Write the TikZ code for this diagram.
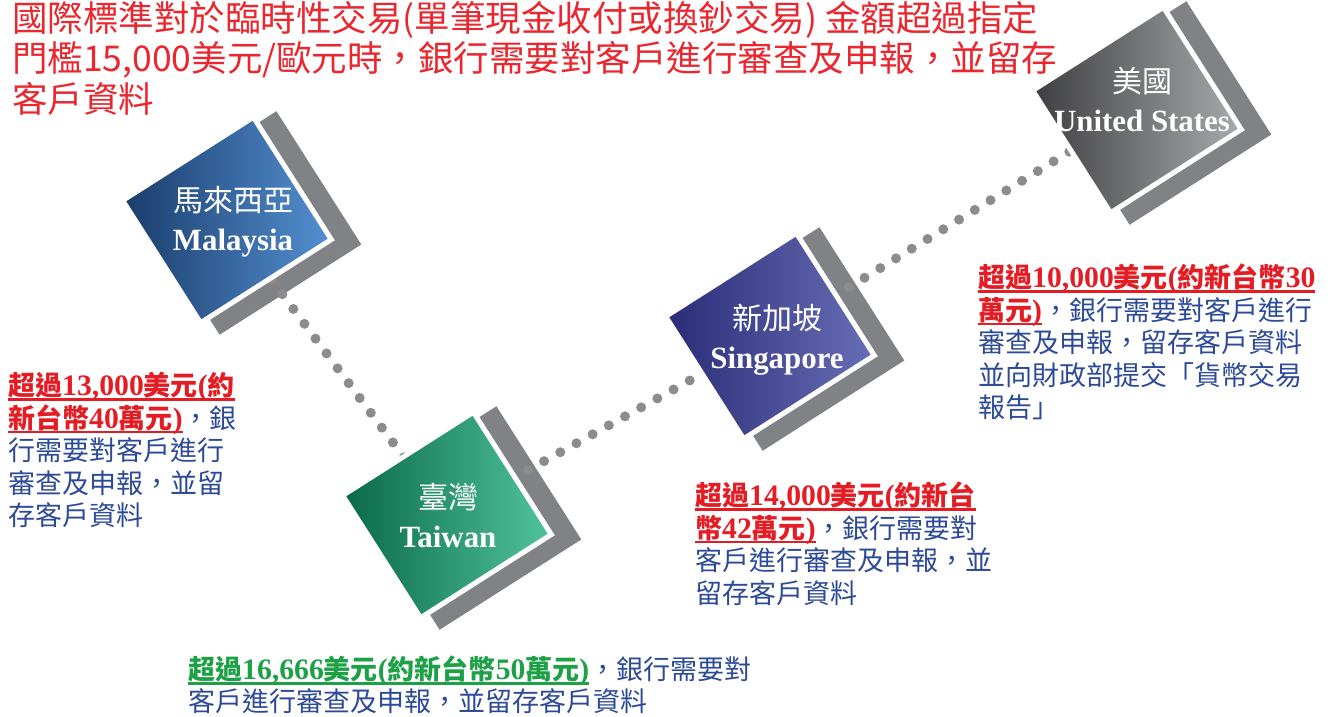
\documentclass[tikz,border=0pt]{standalone}
\usepackage{fontspec}
\setmainfont{Noto Sans CJK TC}
\newfontfamily\engfont{Liberation Serif}[Scale=1.03]
\newfontfamily\numfont{Liberation Serif}[Scale=1.1]
\usepackage{tikz}
\usetikzlibrary{positioning}
\usetikzlibrary{calc}

\definecolor{titlered}{RGB}{234,38,46}
\definecolor{hired}{RGB}{228,28,36}
\definecolor{higreen}{RGB}{30,160,70}
\definecolor{bodyblue}{RGB}{44,74,152}
\definecolor{shadowgray}{RGB}{128,130,133}
\definecolor{dotgray}{RGB}{140,140,142}
\definecolor{mysdark}{RGB}{26,60,106}
\definecolor{myslight}{RGB}{84,144,210}
\definecolor{twndark}{RGB}{10,104,72}
\definecolor{twnmid}{RGB}{0,164,118}
\definecolor{twnlight}{RGB}{80,196,156}
\definecolor{sgpdark}{RGB}{42,44,118}
\definecolor{sgplight}{RGB}{104,110,182}
\definecolor{usadark}{RGB}{62,62,64}
\definecolor{usalight}{RGB}{168,170,173}

\newcommand{\undl}[1]{\setbox0\hbox{#1}\rlap{\rule[-5pt]{\wd0}{2.5pt}}\box0}
\newcommand{\hotred}[1]{{\color{hired}\bfseries\undl{#1}}}
\newcommand{\hotgreen}[1]{{\color{higreen}\bfseries\undl{#1}}}
\newcommand{\lat}[1]{{\numfont #1}}

\tikzstyle{every node}=[inner sep=0pt]
\tikzstyle{backsq}=[rotate=32.5, fill=shadowgray, minimum width=168pt, minimum height=158pt]
\tikzstyle{frontsq}=[rotate=32.5, draw=white, line width=5pt, minimum width=155pt, minimum height=145pt]
\tikzstyle{dotline}=[dotgray, line width=10pt, line cap=round, dash pattern=on 0pt off 18.5pt]
\tikzstyle{country}=[text=white, align=center, font=\fontsize{30}{39}\selectfont]
\tikzstyle{note}=[anchor=north west, align=left, text=bodyblue, font=\fontsize{27}{32.5}\selectfont]
\tikzstyle{headline}=[anchor=north west, align=left, text=titlered, font=\fontsize{35.5}{40.5}\selectfont]

\begin{document}
\begin{tikzpicture}[x=1pt,y=-1pt]

\useasboundingbox (0,0) rectangle (1334,717);

\coordinate (mysc) at (227,220);
\coordinate (twnc) at (447,515);
\coordinate (sgpc) at (770,336);
\coordinate (usac) at (1137,110);

\node[backsq] (mysb) at ([shift={(21,3)}]mysc) {};
\node[backsq] (twnb) at ([shift={(21,3)}]twnc) {};
\node[backsq] (sgpb) at ([shift={(21,3)}]sgpc) {};
\node[backsq] (usab) at ([shift={(21,3)}]usac) {};

\draw[dotline] (mysc) -- (twnc);
\draw[dotline] (twnc) -- (sgpc);
\draw[dotline] (sgpc) -- (usac);

\node[frontsq, left color=mysdark, right color=myslight] (mys) at (mysc) {};
\node[frontsq, left color=twndark, middle color=twnmid, right color=twnlight] (twn) at (twnc) {};
\node[frontsq, left color=sgpdark, right color=sgplight] (sgp) at (sgpc) {};
\node[frontsq, left color=usadark, right color=usalight] (usa) at (usac) {};

\node[country] (mysl) at ([shift={(6,2)}]mys.center) {馬來西亞\\{\engfont\bfseries Malaysia}};
\node[country] (twnl) at ([shift={(1,1)}]twn.center) {臺灣\\{\engfont\bfseries Taiwan}};
\node[country] (sgpl) at ([shift={(7,4)}]sgp.center) {新加坡\\{\engfont\bfseries Singapore}};
\node[country] (usal) at ([shift={(5,-11)}]usa.center) {美國\\{\engfont\bfseries United States}};

\node[headline] (head) at (12,1) {國際標準對於臨時性交易(單筆現金收付或換鈔交易) 金額超過指定\\門檻15,000美元/歐元時，銀行需要對客戶進行審查及申報，並留存\\客戶資料};

\node[note] (mysn) at (8,372) {\hotred{超過\lat{13,000}美元\lat{(}約}\\\hotred{新台幣\lat{40}萬元\lat{)}}，銀\\行需要對客戶進行\\審查及申報，並留\\存客戶資料};

\node[note] (sgpn) at (695,482) {\hotred{超過\lat{14,000}美元\lat{(}約新台}\\\hotred{幣\lat{42}萬元\lat{)}}，銀行需要對\\客戶進行審查及申報，並\\留存客戶資料};

\node[note] (usan) at (978,264) {\hotred{超過\lat{10,000}美元\lat{(}約新台幣\lat{30}}\\\hotred{萬元\lat{)}}，銀行需要對客戶進行\\審查及申報，留存客戶資料\\並向財政部提交「貨幣交易\\報告」};

\node[note, font=\fontsize{27}{31.5}\selectfont] (twnn) at (188,656) {\hotgreen{超過\lat{16,666}美元\lat{(}約新台幣\lat{50}萬元\lat{)}}，銀行需要對\\客戶進行審查及申報，並留存客戶資料};

\end{tikzpicture}
\end{document}
